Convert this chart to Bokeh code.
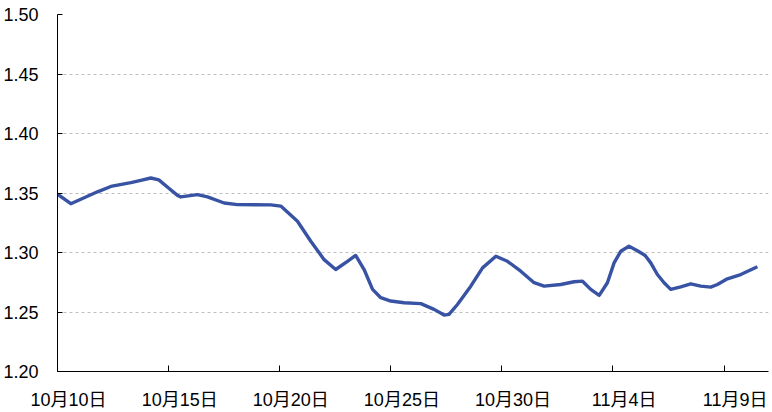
from bokeh.plotting import figure
from bokeh.models import FixedTicker, LinearAxis, Range1d
from bokeh.embed import file_html
from bokeh.resources import INLINE

# x: days since 10月10日 (start of that day)
days = [0.0, 0.6, 1.2, 1.8, 2.4, 3.3, 3.75, 4.2, 4.56, 5.01, 5.4, 5.55, 6.3, 6.75,
        7.5, 8.1, 9.6, 10.05, 10.8, 11.4, 12.0, 12.52, 13.05, 13.42, 13.8, 14.18,
        14.55, 15.0, 15.6, 16.35, 16.95, 17.4, 17.62, 18.0, 18.6, 19.13, 19.73,
        20.25, 20.85, 21.45, 21.9, 22.65, 23.25, 23.63, 24.0, 24.38, 24.75, 25.05,
        25.35, 25.72, 26.1, 26.45, 26.7, 27.0, 27.3, 27.6, 28.05, 28.5, 28.95,
        29.4, 29.7, 30.15, 30.75, 31.5]
values = [1.349, 1.341, 1.346, 1.351, 1.3555, 1.3587, 1.3606, 1.3626, 1.361, 1.354,
          1.348, 1.3467, 1.3486, 1.3467, 1.3416, 1.3402, 1.340, 1.339, 1.3262,
          1.3095, 1.294, 1.2857, 1.2926, 1.2975, 1.2857, 1.269, 1.262, 1.2592,
          1.2578, 1.257, 1.2522, 1.2474, 1.248, 1.2563, 1.2717, 1.2871, 1.2968,
          1.2926, 1.2843, 1.2746, 1.2717, 1.2731, 1.2754, 1.2759, 1.269, 1.264,
          1.2746, 1.2913, 1.301, 1.3052, 1.3015, 1.2975, 1.2913, 1.2815, 1.2746,
          1.269, 1.2712, 1.2737, 1.2717, 1.2709, 1.2731, 1.2779, 1.2815, 1.288]

tick_days = [0, 5, 10, 15, 20, 25, 30]
tick_labels = ["10月10日", "10月15日", "10月20日", "10月25日", "10月30日", "11月4日", "11月9日"]
y_ticks = [1.20, 1.25, 1.30, 1.35, 1.40, 1.45, 1.50]

FONT = "Liberation Sans, Arial, Noto Sans CJK SC"

p = figure(width=772, height=412, output_backend="svg", toolbar_location=None,
           x_range=Range1d(0, 32), y_range=Range1d(1.20, 1.50),
           x_axis_type=None, min_border_top=14, min_border_left=57,
           min_border_right=4, min_border_bottom=10)
p.outline_line_color = None
p.background_fill_color = "white"
p.border_fill_color = "white"

# y axis
p.yaxis.ticker = FixedTicker(ticks=y_ticks)
p.yaxis.major_label_overrides = {t: f"{t:.2f}" for t in y_ticks}
p.yaxis.major_tick_in = 5
p.yaxis.major_tick_out = 0
p.yaxis.minor_tick_line_color = None
p.yaxis.axis_line_color = "black"
p.yaxis.major_tick_line_color = "black"
p.yaxis.major_label_text_font = FONT
p.yaxis.major_label_text_font_size = "18px"
p.yaxis.major_label_text_color = "black"
p.yaxis.major_label_standoff = 19

# x axis: tick marks at day boundaries
xa = LinearAxis(ticker=FixedTicker(ticks=tick_days))
xa.major_tick_in = 6
xa.major_tick_out = 0
xa.minor_tick_line_color = None
xa.major_label_text_font_size = "0px"
xa.major_label_standoff = 0
xa.major_label_overrides = {t: "" for t in tick_days}
xa.axis_line_color = "black"
xa.major_tick_line_color = "black"
p.add_layout(xa, "below")

# x labels at day centres
centres = [t + 0.5 for t in tick_days]
xl = LinearAxis(ticker=FixedTicker(ticks=centres))
xl.axis_line_color = None
xl.major_tick_line_color = None
xl.minor_tick_line_color = None
xl.major_tick_in = 0
xl.major_tick_out = 0
xl.major_label_overrides = {c: lab for c, lab in zip(centres, tick_labels)}
xl.major_label_text_font = FONT
xl.major_label_text_font_size = "18px"
xl.major_label_text_color = "black"
xl.major_label_standoff = 18
p.add_layout(xl, "below")

p.xgrid.visible = False
p.ygrid.ticker = FixedTicker(ticks=y_ticks[1:])
p.ygrid.grid_line_color = "#BFBFBF"
p.ygrid.grid_line_dash = "3 3"
p.ygrid.grid_line_width = 1

p.line(days, values, line_color="#3953A4", line_width=3.4, line_join="round")

open("out.html", "w").write(file_html(p, INLINE))
